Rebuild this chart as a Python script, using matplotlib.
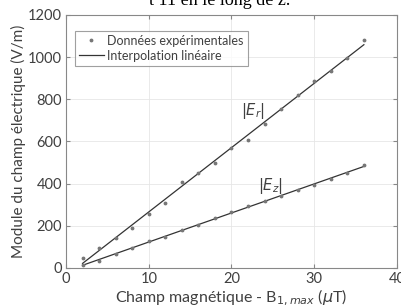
import numpy as np
import matplotlib.pyplot as plt

# magnetic field (uT)
b_field = [2, 4, 6, 8, 10, 12, 14, 16, 18, 20, 22, 24, 26, 28, 30, 32, 34, 36]
# measured |Er| and |Ez| (V/m)
e_r = [46, 96, 144, 191, 256, 310, 408, 449, 500, 567, 607, 682, 752, 820, 888, 934, 997, 1081]
e_z = [14, 35, 68, 93, 128, 148, 180, 205, 235, 267, 294, 318, 343, 368, 395, 420, 452, 488]

x_ticks = [0, 10, 20, 30, 40]
y_ticks = [0, 200, 400, 600, 800, 1000, 1200]

plt.rcParams['font.family'] = ['Lato', 'DejaVu Sans']
txt_col = '#404040'

fig = plt.figure(figsize=(4.01, 3.06), dpi=100)
ax = fig.add_axes([0.1646, 0.1242, 0.8254, 0.8268])

x = np.array(b_field)
for y in (e_r, e_z):
    p = np.polyfit(x, y, 1)
    ax.plot(x, np.polyval(p, x), color='#333333', lw=0.9, zorder=2)
ax.plot(x, e_r, '.', color='#777777', ms=3.5, zorder=3, label='Données expérimentales')
ax.plot(x, e_z, '.', color='#777777', ms=3.5, zorder=3)
ax.plot([], [], color='#333333', lw=0.9, label='Interpolation linéaire')

ax.text(22.6, 745, r'$|E_r|$', fontsize=10.5, color=txt_col, ha='center', va='center')
ax.text(24.7, 390, r'$|E_z|$', fontsize=10.5, color=txt_col, ha='center', va='center')

ax.set_xlim(0, 40)
ax.set_ylim(0, 1200)
ax.set_xticks(x_ticks)
ax.set_yticks(y_ticks)
ax.grid(color='#e6e6e6', lw=0.6)
ax.set_axisbelow(True)
ax.tick_params(direction='in', top=True, right=True, length=3, color='#888888',
               labelcolor=txt_col, labelsize=10.5, pad=3)
for s in ax.spines.values():
    s.set_color('#888888')
    s.set_linewidth(0.8)

ax.set_xlabel(r'Champ magnétique - B$_{1,max}$ ($\mu$T)', fontsize=11.5, color=txt_col, labelpad=1)
ax.set_ylabel('Module du champ électrique (V/m)', fontsize=11, color=txt_col, labelpad=1)

leg = ax.legend(loc='upper left', bbox_to_anchor=(0.027, 0.937), fontsize=9, frameon=True,
                fancybox=False, edgecolor='#888888', handlelength=2.0, handletextpad=0.3,
                borderpad=0.3, labelspacing=0.25, borderaxespad=0)
leg.get_frame().set_linewidth(0.8)
for t in leg.get_texts():
    t.set_color(txt_col)

# cropped line of the surrounding document text
fig.text(0.372, 1 - 5 / 306, 't 11 en le long de z.', family='Liberation Serif', fontsize=13,
         color='black', va='baseline')

fig.savefig('out.png', dpi=100)
